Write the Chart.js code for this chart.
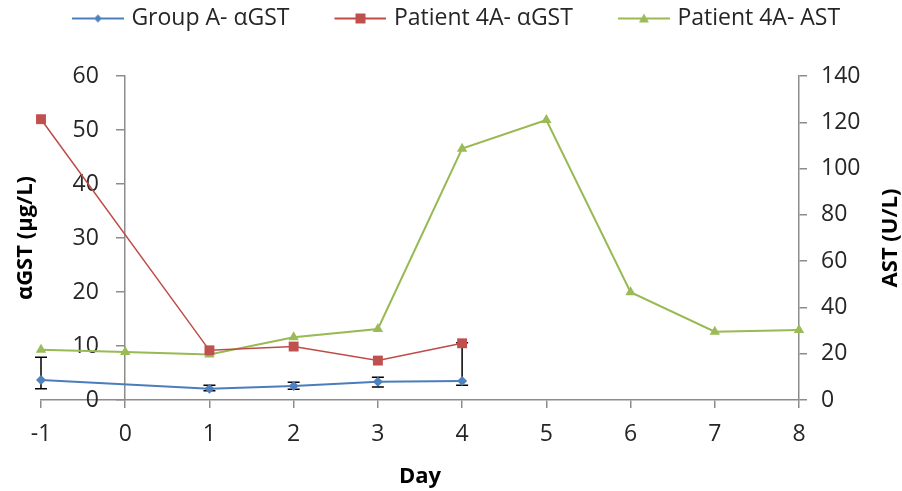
<!DOCTYPE html>
<html>
<head>
<meta charset="utf-8">
<script src="https://cdn.jsdelivr.net/npm/chart.js@4/dist/chart.umd.min.js"></script>
<style>
  html, body { margin: 0; padding: 0; background: #fff; }
  #wrap { width: 902px; height: 491px; }
</style>
</head>
<body>
<div id="wrap"><canvas id="chart" width="902" height="491"></canvas></div>
<script>
// values
const days = [-1, 0, 1, 2, 3, 4, 5, 6, 7, 8];
const groupDays = [-1, 1, 2, 3, 4];
const groupGST = [3.7, 2.1, 2.6, 3.4, 3.5];
const groupLow = [2.1, 1.7, 2.0, 2.4, 2.75];
const groupHigh = [7.9, 2.75, 3.3, 4.2, 10.6];
const patientDays = [-1, 1, 2, 3, 4];
const patientGST = [52, 9.2, 9.9, 7.3, 10.5];
const patientAST = [21.7, 20.7, 19.7, 27.1, 30.7, 108.6, 121, 46.6, 29.5, 30.3];
const gstTicks = [0, 60, 10];
const astTicks = [0, 140, 20];

const FONT = '"Open Sans", sans-serif';
const AXIS = '#8c8c8c';
const TEXT = '#262626';

const blue = { line: '#4a7ebb', mark: '#4f81bd' };
const red = { line: '#be4b48', mark: '#c0504d' };
const green = { line: '#98b954', mark: '#9bbb59' };

// legend icon: line with the marker in the middle, like excel does it
function legendIcon(col, shape) {
  const c = document.createElement('canvas');
  c.width = 94; c.height = 16;
  const g = c.getContext('2d');
  g.strokeStyle = col.line; g.lineWidth = 2;
  g.beginPath(); g.moveTo(42, 8); g.lineTo(94, 8); g.stroke();
  g.fillStyle = col.mark;
  g.beginPath();
  if (shape === 'diamond') {
    g.moveTo(68, 4); g.lineTo(72, 8); g.lineTo(68, 12); g.lineTo(64, 8);
  } else if (shape === 'square') {
    g.rect(63, 3, 10, 10);
  } else {
    g.moveTo(68, 3); g.lineTo(73, 12); g.lineTo(63, 12);
  }
  g.closePath(); g.fill();
  return c;
}

const errorBars = {
  id: 'errorBars',
  beforeDatasetsDraw(chart) {
    const { ctx, scales: { x, y } } = chart;
    ctx.save();
    ctx.strokeStyle = '#000';
    ctx.lineWidth = 1.5;
    groupDays.forEach((d, i) => {
      const px = x.getPixelForValue(d);
      const top = y.getPixelForValue(groupHigh[i]);
      const bot = y.getPixelForValue(groupLow[i]);
      ctx.beginPath();
      ctx.moveTo(px, top); ctx.lineTo(px, bot);
      ctx.moveTo(px - 6, top); ctx.lineTo(px + 6, top);
      ctx.moveTo(px - 6, bot); ctx.lineTo(px + 6, bot);
      ctx.stroke();
    });
    ctx.restore();
  }
};

// both y titles read bottom-to-top, chart.js turns the right one the other way
const sideTitles = {
  id: 'sideTitles',
  afterDraw(chart) {
    const { ctx, chartArea } = chart;
    const mid = (chartArea.top + chartArea.bottom) / 2;
    ctx.save();
    ctx.font = 'bold 22px ' + FONT;
    ctx.fillStyle = '#000';
    ctx.textAlign = 'center';
    ctx.textBaseline = 'alphabetic';
    [[32, 'αGST (μg/L)'], [897, 'AST (U/L)']].forEach(([x, t]) => {
      ctx.save();
      ctx.translate(x, mid);
      ctx.rotate(-Math.PI / 2);
      ctx.fillText(t, 0, 0);
      ctx.restore();
    });
    ctx.restore();
  }
};

// push the plot down below the legend
const legendGap = {
  id: 'legendGap',
  beforeInit(chart) {
    const fit = chart.legend.fit;
    chart.legend.fit = function () {
      fit.bind(chart.legend)();
      this.height += 36;
    };
  }
};

const axisLine = { display: true, color: AXIS, width: 1.5 };
const tickMarks = { drawOnChartArea: false, drawTicks: true, tickLength: 8, color: AXIS, lineWidth: 1.5 };
const tickFont = { family: FONT, size: 23 };

new Chart(document.getElementById('chart'), {
  type: 'line',
  data: {
    datasets: [
      {
        label: 'Group A- αGST',
        data: groupDays.map((d, i) => ({ x: d, y: groupGST[i] })),
        borderColor: blue.line, backgroundColor: blue.mark,
        borderWidth: 2, pointStyle: 'rectRot', pointRadius: 5, pointBorderWidth: 0,
        yAxisID: 'y', clip: false
      },
      {
        label: 'Patient 4A- αGST',
        data: patientDays.map((d, i) => ({ x: d, y: patientGST[i] })),
        borderColor: red.line, backgroundColor: red.mark,
        borderWidth: 1.5, pointStyle: 'rect', pointRadius: 7, pointBorderWidth: 0,
        yAxisID: 'y', clip: false
      },
      {
        label: 'Patient 4A- AST',
        data: days.map((d, i) => ({ x: d, y: patientAST[i] })),
        borderColor: green.line, backgroundColor: green.mark,
        borderWidth: 2, pointStyle: 'triangle', pointRadius: 6, pointBorderWidth: 0,
        yAxisID: 'y2', clip: false
      }
    ]
  },
  options: {
    responsive: false,
    animation: false,
    layout: { padding: { left: 0, right: 28, top: 0, bottom: 0 } },
    elements: { line: { tension: 0 } },
    plugins: {
      tooltip: { enabled: false },
      legend: {
        position: 'top',
        labels: {
          usePointStyle: true,
          pointStyleWidth: 86,
          padding: 7,
          color: TEXT,
          font: { family: FONT, size: 23 },
          generateLabels(chart) {
            const icons = [legendIcon(blue, 'diamond'), legendIcon(red, 'square'), legendIcon(green, 'triangle')];
            return chart.data.datasets.map((ds, i) => ({
              text: ds.label, pointStyle: icons[i], datasetIndex: i,
              fillStyle: ds.backgroundColor, strokeStyle: ds.borderColor,
              lineWidth: 0, fontColor: TEXT, hidden: false
            }));
          }
        }
      }
    },
    scales: {
      x: {
        type: 'linear',
        position: 'bottom',
        min: days[0], max: days[days.length - 1],
        border: axisLine,
        grid: tickMarks,
        ticks: { stepSize: 1, padding: 13, color: TEXT, font: tickFont },
        title: { display: true, text: 'Day', color: '#000', font: { family: FONT, size: 22, weight: 'bold' }, padding: { top: 0, bottom: 1 } },
        afterFit(s) { s.height = 91; }
      },
      // empty spacer so the plot starts at day -1 while the real axis sits on day 0
      spacer: {
        type: 'linear',
        position: 'left',
        min: 0, max: 1,
        border: { display: false },
        grid: { display: false },
        ticks: { display: false },
        afterFit(s) { s.width = 41; }
      },
      y: {
        type: 'linear',
        position: { x: 0 },
        min: gstTicks[0], max: gstTicks[1],
        border: axisLine,
        grid: tickMarks,
        ticks: {
          stepSize: gstTicks[2], color: TEXT, font: tickFont,
          // labels of an axis placed on x=0 sit on the line, pad them off it
          callback: v => v + '\u2007\u2007'
        }
      },
      y2: {
        type: 'linear',
        position: 'right',
        min: astTicks[0], max: astTicks[1],
        border: axisLine,
        grid: tickMarks,
        ticks: { stepSize: astTicks[2], padding: 14, color: TEXT, font: tickFont },
        afterFit(s) { s.width = 75; }
      }
    }
  },
  plugins: [errorBars, sideTitles, legendGap]
});
</script>
</body>
</html>
